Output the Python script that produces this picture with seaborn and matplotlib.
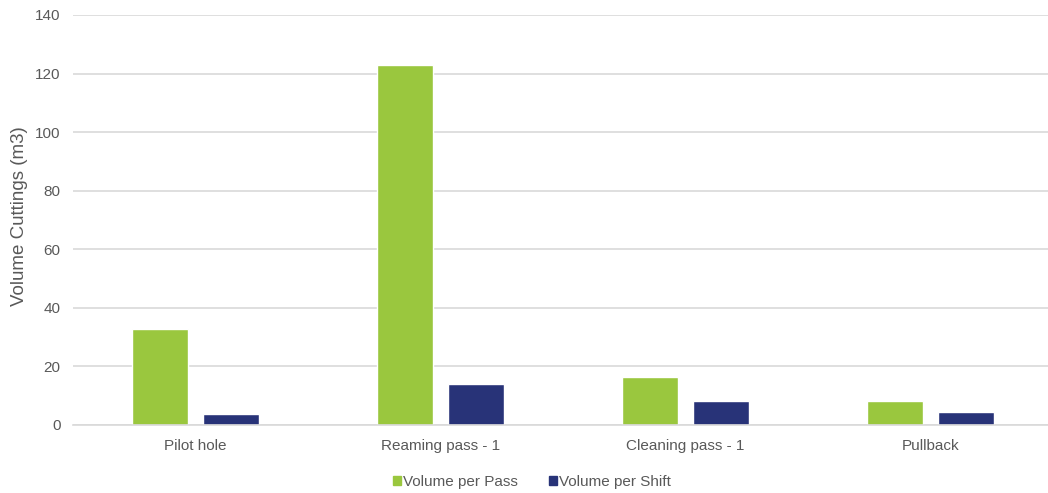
import seaborn as sns
import pandas as pd
import matplotlib.pyplot as plt

# bar values
stages = ['Pilot hole', 'Reaming pass - 1', 'Cleaning pass - 1', 'Pullback']
per_pass = [32.8, 123.0, 16.5, 8.3]
per_shift = [3.7, 14.0, 8.3, 4.3]
series = ['Volume per Pass', 'Volume per Shift']
colors = ['#9AC73E', '#283378']

df = pd.DataFrame({
    'stage': stages * 2,
    'volume': per_pass + per_shift,
    'series': [series[0]] * 4 + [series[1]] * 4,
})

sns.set_style('white')
plt.rcParams['font.family'] = ['Liberation Sans', 'DejaVu Sans']

fig = plt.figure(figsize=(10.48, 4.93), dpi=100)
ax = fig.add_axes([73 / 1048, 68 / 493, 980 / 1048, 410 / 493])

sns.barplot(data=df, x='stage', y='volume', hue='series', palette=colors,
            width=0.58, gap=0.225, ax=ax, legend=False, saturation=1)

ax.set_ylim(0, 140)
ax.set_yticks(range(0, 141, 20))
ax.set_xlim(-0.5, 3.5)
ax.yaxis.grid(True, color='#d9d9d9', linewidth=1.2)
ax.set_axisbelow(True)
for s in ['top', 'right', 'left']:
    ax.spines[s].set_visible(False)
ax.spines['bottom'].set_color('#d9d9d9')
ax.spines['bottom'].set_linewidth(1.2)
ax.tick_params(axis='both', length=0, labelsize=11, labelcolor='#595959')
ax.tick_params(axis='x', pad=10)
ax.tick_params(axis='y', pad=9)
ax.set_xlabel('')
ax.set_ylabel('Volume Cuttings (m3)', fontsize=13.5, color='#595959')
ax.yaxis.set_label_coords(-0.046, 0.51)

handles = [plt.Rectangle((0, 0), 1, 1, color=c) for c in colors]
fig.legend(handles, series, loc='center', bbox_to_anchor=(532 / 1048, 1 - 482 / 493),
           ncol=2, frameon=False, fontsize=11, handlelength=0.55, handleheight=0.55,
           handletextpad=0.15, columnspacing=2.0, labelcolor='#595959')

plt.savefig('out.png', dpi=100)
